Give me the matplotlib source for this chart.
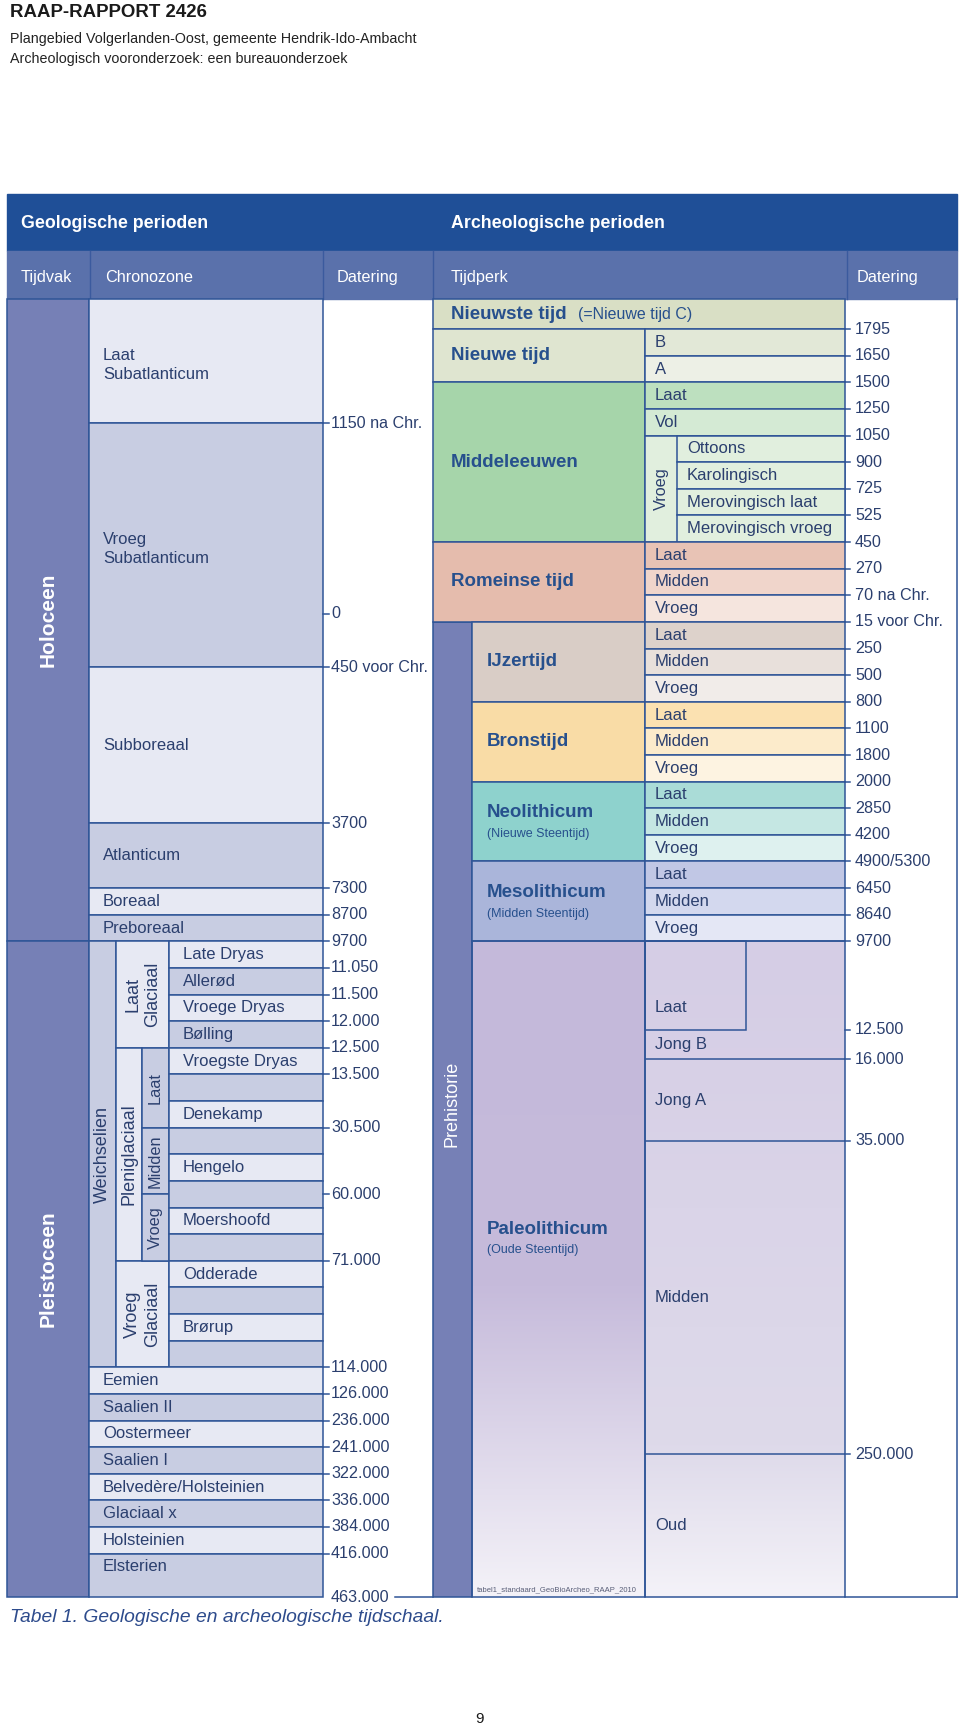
import numpy as np
import matplotlib.pyplot as plt
from matplotlib.patches import Rectangle
from matplotlib.colors import to_rgb

plt.rcParams['font.family'] = ['Liberation Sans', 'DejaVu Sans']

# Kleuren
LIJN = '#2f5597'
TEKST = '#2b3f6e'
TITEL = '#27508d'
BLAUW = '#7680b6'
LICHT = '#e7e9f3'
DONKER = '#c8cde2'

# ---------------- Geologische perioden (grenzen in rijen) ----------------
tijdvakken = ['Holoceen', 'Pleistoceen']
tijdvak_grenzen = [-1.13, 23, 47.63]

chronozones = ['Laat\nSubatlanticum', 'Vroeg\nSubatlanticum', 'Subboreaal',
               'Atlanticum', 'Boreaal', 'Preboreaal']
chronozone_grenzen = [-1.13, 3.53, 12.70, 18.56, 21, 22, 23]

weichsel_zones = ['Late Dryas', 'Allerød', 'Vroege Dryas', 'Bølling', 'Vroegste Dryas', '',
                  'Denekamp', '', 'Hengelo', '', 'Moershoofd', '', 'Odderade', '', 'Brørup', '']
weichsel_fasen = ['Laat\nGlaciaal', 'Pleniglaciaal', 'Vroeg\nGlaciaal']
weichsel_fasen_grenzen = [23, 27, 35, 39]
pleni_delen = ['Laat', 'Midden', 'Vroeg']
pleni_grenzen = [27, 30, 32.5, 35]

oudere_zones = ['Eemien', 'Saalien II', 'Oostermeer', 'Saalien I',
                'Belvedère/Holsteinien', 'Glaciaal x', 'Holsteinien', 'Elsterien']
oudere_grenzen = [39, 40, 41, 42, 43, 44, 45, 46, 47.63]

geo_datering = ['1150 na Chr.', '0', '450 voor Chr.', '3700', '7300', '8700', '9700',
                '11.050', '11.500', '12.000', '12.500', '13.500', '30.500', '60.000',
                '71.000', '114.000', '126.000', '236.000', '241.000', '322.000',
                '336.000', '384.000', '416.000', '463.000']
geo_datering_rij = [3.53, 10.70, 12.70, 18.56, 21, 22, 23, 24, 25, 26, 27, 28, 30, 32.5,
                    35, 39, 40, 41, 42, 43, 44, 45, 46, 47.63]

# ---------------- Archeologische perioden ----------------
perioden = ['Nieuwste tijd', 'Nieuwe tijd', 'Middeleeuwen', 'Romeinse tijd', 'IJzertijd',
            'Bronstijd', 'Neolithicum', 'Mesolithicum', 'Paleolithicum']
perioden_toevoeging = ['(=Nieuwe tijd C)', '', '', '', '', '',
                       '(Nieuwe Steentijd)', '(Midden Steentijd)', '(Oude Steentijd)']
perioden_grenzen = [-1.13, 0, 2, 8, 11, 14, 17, 20, 23, 47.63]
perioden_kleur = ['#d9dfc5', '#dfe5d0', '#a6d5aa', '#e5bcad', '#d9cdc6',
                  '#f9dca6', '#8ed2cd', '#aab5da', '#c4b9da']

subperioden = ['B', 'A', 'Laat', 'Vol', 'Vroeg', 'Laat', 'Midden', 'Vroeg',
               'Laat', 'Midden', 'Vroeg', 'Laat', 'Midden', 'Vroeg',
               'Laat', 'Midden', 'Vroeg', 'Laat', 'Midden', 'Vroeg']
subperioden_grenzen = [0, 1, 2, 3, 4, 8, 9, 10, 11, 12, 13, 14, 15, 16, 17, 18, 19, 20, 21, 22, 23]
subperioden_kleur = ['#e2e8d7', '#edf0e6', '#bde0bf', '#d4ead4', '#e1efde',
                     '#e8c3b5', '#f0d5cb', '#f5e5de', '#ddd2cb', '#e8e0db', '#f1ece9',
                     '#fbe1b1', '#fcebcb', '#fdf3e1', '#aadcd7', '#c5e7e3', '#def1ef',
                     '#c1c7e5', '#d3d8ee', '#e4e7f5']

vroege_middeleeuwen = ['Ottoons', 'Karolingisch', 'Merovingisch laat', 'Merovingisch vroeg']
vroege_middeleeuwen_grenzen = [4, 5, 6, 7, 8]

paleo_delen = ['Laat', 'Jong B', 'Jong A', 'Midden', 'Oud']
paleo_grenzen = [23, 26.33, 27.42, 30.5, 42.26, 47.63]

arch_datering = ['1795', '1650', '1500', '1250', '1050', '900', '725', '525', '450', '270',
                 '70 na Chr.', '15 voor Chr.', '250', '500', '800', '1100', '1800', '2000',
                 '2850', '4200', '4900/5300', '6450', '8640', '9700', '12.500', '16.000',
                 '35.000', '250.000']
arch_datering_rij = list(range(24)) + [26.33, 27.42, 30.5, 42.26]

# kolomranden (px)
X_L, X_TV, X_W, X_P, X_F, X_CZ = 7, 89, 116, 142, 169, 323
X_DAT, X_PH, X_SUB, X_VR, X_LB, X_SE, X_R = 433, 472, 645, 677, 746, 845, 957

fig = plt.figure(figsize=(9.6, 17.29), dpi=100)

# pagina-assen in pixels
page = fig.add_axes([0, 0, 1, 1])
page.set_xlim(0, 960)
page.set_ylim(1729, 0)
page.axis('off')

page.text(10, 12, 'RAAP-RAPPORT 2426', fontsize=13.4, fontweight='bold', color='#1a1a1a', va='center')
page.text(10, 39, 'Plangebied Volgerlanden-Oost, gemeente Hendrik-Ido-Ambacht', fontsize=10.3, color='#222222', va='center')
page.text(10, 59, 'Archeologisch vooronderzoek: een bureauonderzoek', fontsize=10.3, color='#222222', va='center')

page.add_patch(Rectangle((X_L, 194), X_R - X_L, 57, color='#1f4f97'))
page.add_patch(Rectangle((X_L, 251), X_R - X_L, 48, color='#5a71ab'))
for x in [90, X_CZ, X_DAT, 847]:
    page.plot([x, x], [251, 299], color='#3b5a9e', lw=1)
page.text(21, 223, 'Geologische perioden', fontsize=12.8, fontweight='bold', color='white', va='center')
page.text(451, 223, 'Archeologische perioden', fontsize=12.8, fontweight='bold', color='white', va='center')
for x, s in [(21, 'Tijdvak'), (105, 'Chronozone'), (337, 'Datering'), (451, 'Tijdperk'), (857, 'Datering')]:
    page.text(x, 277, s, fontsize=11.7, color='white', va='center')

page.text(10, 1618, 'Tabel 1. Geologische en archeologische tijdschaal.', fontsize=13.9,
          fontstyle='italic', color='#2d4b8c', va='center')
page.text(480, 1719, '9', fontsize=11, color='#1a1a1a', ha='center', va='center')

# tabel-assen: y in rijen
ax = fig.add_axes([0, 1 - 1597 / 1729, 1, 1298 / 1729])
ax.set_facecolor('none')
ax.axis('off')


def cel(x0, x1, r0, r1, kleur, lw=1.1):
    ax.bar(x0, r1 - r0, width=x1 - x0, bottom=r0, align='edge', color=kleur,
           edgecolor=LIJN, linewidth=lw, zorder=2, clip_on=False)


def tekst(x, r, s, size=12, **kw):
    kw.setdefault('color', TEKST)
    kw.setdefault('va', 'center')
    ax.text(x, r, s, fontsize=size, zorder=5, **kw)


# Tijdvak
for i, naam in enumerate(tijdvakken):
    r0, r1 = tijdvak_grenzen[i], tijdvak_grenzen[i + 1]
    cel(X_L, X_TV, r0, r1, BLAUW)
    tekst((X_L + X_TV) / 2, (r0 + r1) / 2, naam, size=15, fontweight='bold', color='white',
          rotation=90, ha='center')

# Chronozones Holoceen
for i, naam in enumerate(chronozones):
    r0, r1 = chronozone_grenzen[i], chronozone_grenzen[i + 1]
    cel(X_TV, X_CZ, r0, r1, LICHT if i % 2 == 0 else DONKER)
    if '\n' in naam:
        tekst(X_TV + 14, (r0 + r1) / 2 + 0.15, naam, linespacing=1.4)
    else:
        tekst(X_TV + 14, (r0 + r1) / 2, naam)

# Weichselien
cel(X_TV, X_W, 23, 39, DONKER)
tekst((X_TV + X_W) / 2, 31, 'Weichselien', size=13, rotation=90, ha='center')
for i, naam in enumerate(weichsel_fasen):
    r0, r1 = weichsel_fasen_grenzen[i], weichsel_fasen_grenzen[i + 1]
    x1 = X_P if naam == 'Pleniglaciaal' else X_F
    cel(X_W, x1, r0, r1, LICHT)
    tekst((X_W + x1) / 2, (r0 + r1) / 2, naam, size=13, rotation=90, ha='center',
          multialignment='center')
for i, naam in enumerate(pleni_delen):
    r0, r1 = pleni_grenzen[i], pleni_grenzen[i + 1]
    cel(X_P, X_F, r0, r1, DONKER)
    tekst((X_P + X_F) / 2, (r0 + r1) / 2, naam, size=11.7, rotation=90, ha='center')
for j, naam in enumerate(weichsel_zones):
    r0 = 23 + j
    cel(X_F, X_CZ, r0, r0 + 1, LICHT if j % 2 == 0 else DONKER)
    if naam:
        tekst(X_F + 14, r0 + 0.5, naam)

# Oudere zones
for i, naam in enumerate(oudere_zones):
    r0, r1 = oudere_grenzen[i], oudere_grenzen[i + 1]
    cel(X_TV, X_CZ, r0, r1, LICHT if i % 2 == 0 else DONKER)
    tekst(X_TV + 14, r0 + 0.5, naam)

# Datering geologie
for naam, r in zip(geo_datering, geo_datering_rij):
    if r < 47:
        ax.plot([X_CZ, X_CZ + 6], [r, r], color=LIJN, lw=1.1, zorder=3, clip_on=False)
    tekst(X_CZ + 8, r, naam, size=11.6)
ax.plot([395, X_DAT], [47.63, 47.63], color=LIJN, lw=1.1, zorder=3, clip_on=False)

# Prehistorie
cel(X_DAT, X_PH, 11, 47.63, BLAUW)
tekst((X_DAT + X_PH) / 2, 29.1, 'Prehistorie', size=13, color='white', rotation=90, ha='center')

# Paleolithicum verloop
rijen = np.linspace(23, 47.63, 300)
def verloop(posities, kleuren):
    rgb = np.array([to_rgb(k) for k in kleuren])
    return np.stack([np.interp(rijen, posities, rgb[:, c]) for c in range(3)], axis=-1)[:, None, :]
ax.imshow(verloop([23, 36, 47.63], ['#c4b9da', '#c6bbdb', '#f4f2f8']), extent=(X_PH, X_SUB, 47.63, 23),
          aspect='auto', zorder=1, interpolation='bilinear')
ax.imshow(verloop([23, 33, 42, 47.63], ['#d5cde5', '#dad4e8', '#dedaea', '#f4f2f8']),
          extent=(X_SUB, X_SE, 47.63, 23), aspect='auto', zorder=1, interpolation='bilinear')

# Tijdperken
for i, naam in enumerate(perioden):
    r0, r1 = perioden_grenzen[i], perioden_grenzen[i + 1]
    x0 = X_DAT if i < 4 else X_PH
    x1 = X_SE if i == 0 else X_SUB
    kleur = 'none' if naam == 'Paleolithicum' else perioden_kleur[i]
    cel(x0, x1, r0, r1, kleur)
    tx = 451 if i < 4 else 487
    extra = perioden_toevoeging[i]
    if i == 0:
        tekst(tx, (r0 + r1) / 2, naam, size=13.5, fontweight='bold', color=TITEL)
        tekst(578, (r0 + r1) / 2, extra, size=11.5, color=TITEL)
    elif naam == 'Paleolithicum':
        rt = r0 + 0.44 * (r1 - r0)
        tekst(tx, rt, naam, size=13.5, fontweight='bold', color=TITEL)
        tekst(tx, rt + 0.76, extra, size=9, color=TITEL)
    elif extra:
        rc = (r0 + r1) / 2
        tekst(tx, rc - 0.33, naam, size=13.5, fontweight='bold', color=TITEL)
        tekst(tx, rc + 0.46, extra, size=9, color=TITEL)
    else:
        tekst(tx, (r0 + r1) / 2, naam, size=13.5, fontweight='bold', color=TITEL)

# Subperioden
for i, naam in enumerate(subperioden):
    r0, r1 = subperioden_grenzen[i], subperioden_grenzen[i + 1]
    cel(X_SUB, X_SE, r0, r1, subperioden_kleur[i])
    if r1 - r0 > 1.5:
        tekst((X_SUB + X_VR) / 2, (r0 + r1) / 2, naam, size=11.7, rotation=90, ha='center')
        for j, deel in enumerate(vroege_middeleeuwen):
            q0, q1 = vroege_middeleeuwen_grenzen[j], vroege_middeleeuwen_grenzen[j + 1]
            cel(X_VR, X_SE, q0, q1, subperioden_kleur[i])
            tekst(X_VR + 10, (q0 + q1) / 2, deel)
    else:
        tekst(X_SUB + 10, (r0 + r1) / 2, naam)

# Paleolithicum onderverdeling
cel(X_SUB, X_SE, 23, 47.63, 'none')
cel(X_SUB, X_LB, paleo_grenzen[0], paleo_grenzen[1], 'none')
ax.hlines(paleo_grenzen[2:-1], X_SUB, X_SE, color=LIJN, lw=1.1, zorder=3)
for i, naam in enumerate(paleo_delen):
    r0, r1 = paleo_grenzen[i], paleo_grenzen[i + 1]
    rl = r0 + 0.75 * (r1 - r0) if i == 0 else (r0 + r1) / 2
    tekst(X_SUB + 10, rl, naam)
tekst(X_PH + 5, 47.37, 'tabel1_standaard_GeoBioArcheo_RAAP_2010', size=5.5, color='#5a5f78')

# Datering archeologie
for naam, r in zip(arch_datering, arch_datering_rij):
    ax.plot([X_SE, X_SE + 5], [r, r], color=LIJN, lw=1.1, zorder=3, clip_on=False)
    tekst(X_SE + 10, r, naam, size=11.6)

# kader rechts en onder
ax.plot([X_R, X_R], [-1.13, 47.63], color=LIJN, lw=1.1, zorder=3, clip_on=False)
ax.plot([X_SE, X_R], [47.63, 47.63], color=LIJN, lw=1.1, zorder=3, clip_on=False)

ax.set_xlim(0, 960)
ax.set_ylim(47.63, -1.13)

fig.savefig('out.png', dpi=100)
